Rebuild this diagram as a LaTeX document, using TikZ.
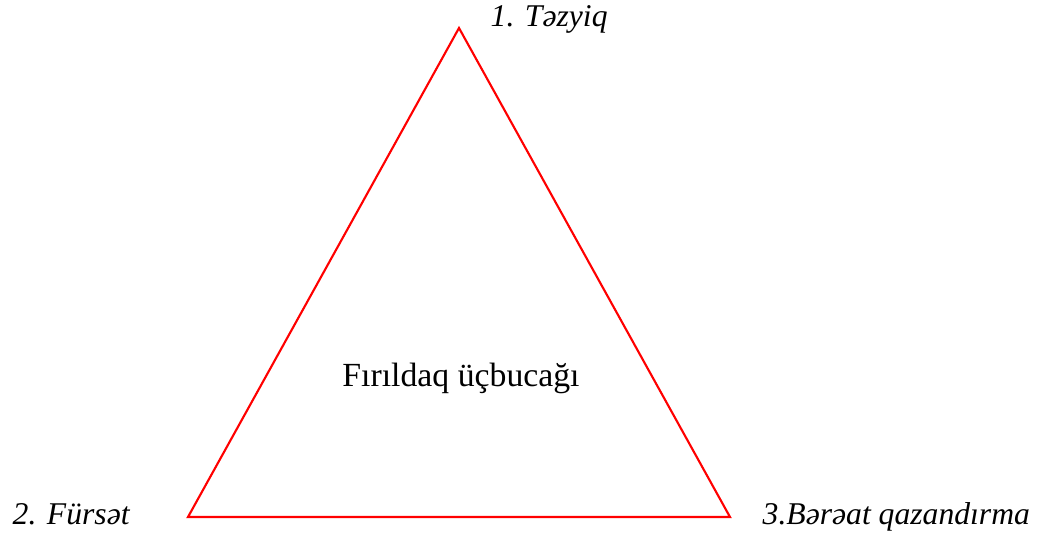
\documentclass[tikz,border=0pt]{standalone}
\usepackage{fontspec}
\setmainfont{Liberation Serif}[ItalicFont={Liberation Serif Italic}]
\usetikzlibrary{positioning}
\tikzset{
  yazi/.style={font=\fontsize{9.0}{11}\selectfont\itshape,inner sep=0pt,anchor=base west},
  xett/.style={draw=red,line width=0.6pt,line join=miter},
}
\begin{document}
\begin{tikzpicture}[x=0.01cm,y=-0.01cm]
  \useasboundingbox (0,0) rectangle (1041,533);
  \coordinate (A) at (459,28);
  \coordinate (B) at (188,517);
  \coordinate (C) at (730,517);
  \draw[xett] (A) -- (B) -- (C) -- cycle;
  \node[yazi] (tezyiq) at (490,26) {1. Təzyiq};
  \node[yazi] (fursat) at (12,524) {2. Fürsət};
  \node[yazi] (beraat) at (762,524) {3.Bərəat qazandırma};
  \node[font=\fontsize{9.6}{11}\selectfont,inner sep=0pt] (merkez) at (461,378) {Fırıldaq üçbucağı};
\end{tikzpicture}
\end{document}
